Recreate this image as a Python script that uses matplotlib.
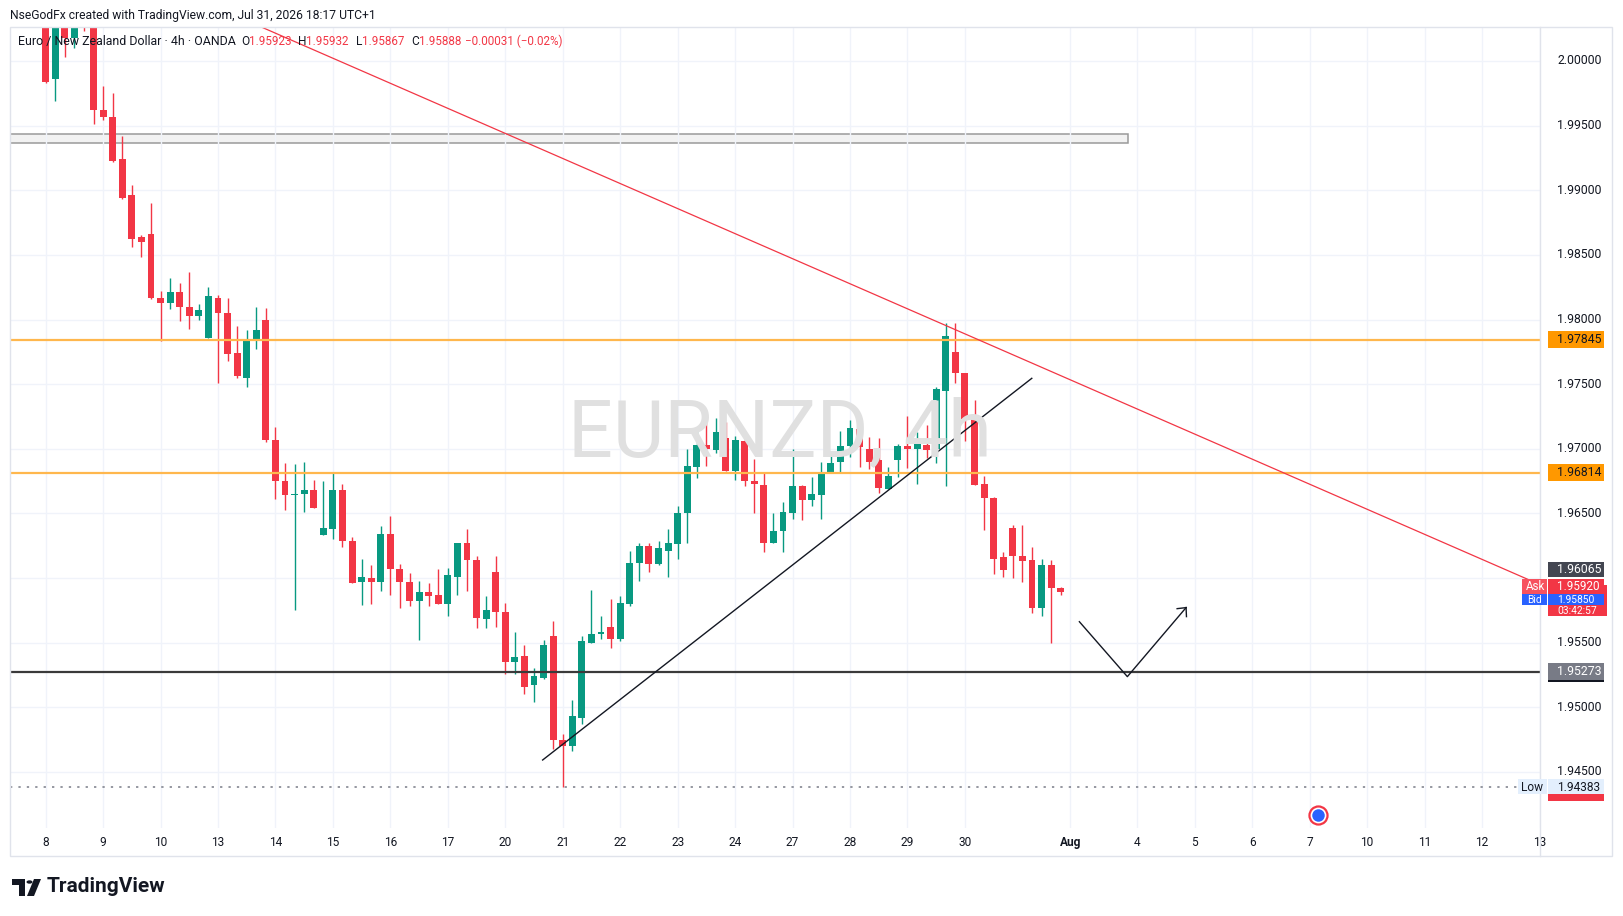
import numpy as np
import matplotlib
matplotlib.use('Agg')
import matplotlib.pyplot as plt
from matplotlib.patches import Rectangle, Polygon, Circle

plt.rcParams['font.family'] = ['Roboto', 'DejaVu Sans']

# 4h candles, EUR/NZD, Jul 8 - Jul 31
opens = [2.0048, 1.9986, 2.0036, 2.0018, 2.0050, 2.0040, 1.9962, 1.9957, 1.9924, 1.9896,
         1.9864, 1.9866, 1.9817, 1.9813, 1.9821, 1.9810, 1.9803, 1.9786, 1.9817, 1.9805,
         1.9774, 1.9755, 1.9784, 1.9800, 1.9707, 1.9675, 1.9664, 1.9665, 1.9668, 1.9633,
         1.9638, 1.9668, 1.9629, 1.9597, 1.9600, 1.9597, 1.9634, 1.9607, 1.9597, 1.9582,
         1.9589, 1.9587, 1.9580, 1.9601, 1.9627, 1.9614, 1.9568, 1.9605, 1.9574, 1.9535,
         1.9540, 1.9517, 1.9523, 1.9555, 1.9475, 1.9470, 1.9492, 1.9550, 1.9557, 1.9562,
         1.9553, 1.9580, 1.9612, 1.9625, 1.9611, 1.9621, 1.9626, 1.9650, 1.9686, 1.9703,
         1.9699, 1.9708, 1.9683, 1.9706, 1.9675, 1.9672, 1.9627, 1.9636, 1.9650, 1.9671,
         1.9660, 1.9664, 1.9681, 1.9690, 1.9702, 1.9715, 1.9700, 1.9691, 1.9669, 1.9691,
         1.9702, 1.9700, 1.9703, 1.9700, 1.9745, 1.9775, 1.9759, 1.9724, 1.9673, 1.9662,
         1.9616, 1.9639, 1.9617, 1.9614, 1.9577, 1.9610, 1.95923]
highs = [2.0060, 2.0055, 2.0050, 2.0045, 2.0058, 2.0052, 1.9981, 1.9975, 1.9942, 1.9904,
         1.9865, 1.9890, 1.9822, 1.9832, 1.9828, 1.9837, 1.9812, 1.9825, 1.9819, 1.9817,
         1.9795, 1.9792, 1.9810, 1.9809, 1.9717, 1.9689, 1.9688, 1.9690, 1.9676, 1.9675,
         1.9682, 1.9673, 1.9632, 1.9615, 1.9610, 1.9640, 1.9648, 1.9611, 1.9604, 1.9598,
         1.9596, 1.9607, 1.9608, 1.9627, 1.9638, 1.9617, 1.9586, 1.9617, 1.9581, 1.9558,
         1.9548, 1.9530, 1.9552, 1.9567, 1.9479, 1.9506, 1.9555, 1.9591, 1.9571, 1.9584,
         1.9586, 1.9621, 1.9627, 1.9627, 1.9629, 1.9638, 1.9656, 1.9700, 1.9714, 1.9728,
         1.9724, 1.9721, 1.9710, 1.9708, 1.9692, 1.9681, 1.9650, 1.9659, 1.9700, 1.9672,
         1.9678, 1.9690, 1.9695, 1.9714, 1.9722, 1.9720, 1.9709, 1.9708, 1.9686, 1.9704,
         1.9725, 1.9713, 1.9718, 1.9748, 1.9797, 1.9797, 1.9759, 1.9738, 1.9679, 1.9663,
         1.9620, 1.9641, 1.9641, 1.9624, 1.9615, 1.9614, 1.95932]
lows = [1.9983, 1.9969, 2.0003, 2.0010, 2.0023, 1.9951, 1.9954, 1.9922, 1.9893, 1.9856,
        1.9848, 1.9816, 1.9783, 1.9808, 1.9799, 1.9793, 1.9800, 1.9786, 1.9751, 1.9768,
        1.9755, 1.9748, 1.9777, 1.9705, 1.9661, 1.9653, 1.9575, 1.9651, 1.9654, 1.9633,
        1.9630, 1.9624, 1.9596, 1.9579, 1.9580, 1.9590, 1.9587, 1.9577, 1.9578, 1.9552,
        1.9578, 1.9580, 1.9571, 1.9587, 1.9590, 1.9561, 1.9561, 1.9562, 1.9526, 1.9526,
        1.9510, 1.9504, 1.9522, 1.9468, 1.94383, 1.9466, 1.9487, 1.9550, 1.9553, 1.9546,
        1.9551, 1.9578, 1.9598, 1.9605, 1.9610, 1.9601, 1.9615, 1.9627, 1.9677, 1.9687,
        1.9697, 1.9683, 1.9676, 1.9671, 1.9650, 1.9620, 1.9627, 1.9620, 1.9646, 1.9645,
        1.9656, 1.9646, 1.9681, 1.9681, 1.9694, 1.9686, 1.9684, 1.9666, 1.9669, 1.9678,
        1.9685, 1.9673, 1.9693, 1.9689, 1.9671, 1.9751, 1.9706, 1.9672, 1.9637, 1.9603,
        1.9601, 1.9600, 1.9597, 1.9573, 1.9571, 1.9550, 1.95867]
closes = [1.9984, 2.0040, 2.0018, 2.0032, 2.0032, 1.9962, 1.9957, 1.9923, 1.9894, 1.9862,
          1.9860, 1.9817, 1.9813, 1.9821, 1.9810, 1.9803, 1.9807, 1.9818, 1.9805, 1.9773,
          1.9756, 1.9785, 1.9792, 1.9707, 1.9675, 1.9664, 1.9665, 1.9668, 1.9654, 1.9639,
          1.9668, 1.9629, 1.9596, 1.9601, 1.9597, 1.9634, 1.9607, 1.9597, 1.9582, 1.9589,
          1.9586, 1.9580, 1.9602, 1.9627, 1.9614, 1.9569, 1.9575, 1.9574, 1.9535, 1.9539,
          1.9516, 1.9524, 1.9548, 1.9475, 1.9470, 1.9493, 1.9551, 1.9557, 1.9558, 1.9553,
          1.9581, 1.9612, 1.9625, 1.9611, 1.9623, 1.9627, 1.9650, 1.9687, 1.9703, 1.9700,
          1.9713, 1.9683, 1.9707, 1.9675, 1.9673, 1.9627, 1.9636, 1.9651, 1.9671, 1.9660,
          1.9665, 1.9682, 1.9689, 1.9702, 1.9716, 1.9701, 1.9690, 1.9670, 1.9679, 1.9702,
          1.9700, 1.9704, 1.9699, 1.9746, 1.9787, 1.9759, 1.9723, 1.9672, 1.9662, 1.9615,
          1.9606, 1.9617, 1.9613, 1.9577, 1.9610, 1.9592, 1.95888]

# time axis labels (bar index where each day starts)
day_pos = [0, 6, 12, 18, 24, 30, 36, 42, 48, 54, 60, 66, 72, 78, 84, 90, 96,
           107, 114, 120, 126, 132, 138, 144, 150, 156]
day_labels = ['8', '9', '10', '13', '14', '15', '16', '17', '20', '21', '22', '23', '24',
              '27', '28', '29', '30', 'Aug', '4', '5', '6', '7', '10', '11', '12', '13']

price_ticks = [2.0, 1.995, 1.99, 1.985, 1.98, 1.975, 1.97, 1.965, 1.96, 1.955, 1.95, 1.945]
hidden_ticks = [1.96]   # covered by the 1.96065 tag in the original

# drawings
level_hi = 1.97845
level_mid = 1.96814
level_support = 1.95273
low_price = 1.94383
zone = (1.99363, 1.99433, 113.0)           # bottom, top, right end (bar index)
red_trend = ((90.27, 1.98074), -0.0003231)  # point, slope per bar
black_trend = ([51.9, 102.98], [1.94592, 1.97545])
path_x = [107.95, 112.96, 119.09]
path_y = [1.95662, 1.95237, 1.95771]

GREEN = '#089981'
RED = '#F23645'
ORANGE = '#FFB74D'
TXT = '#131722'

W, H = 1623, 916
fig = plt.figure(figsize=(W / 100, H / 100), dpi=100)
fig.patch.set_facecolor('white')

def fx(x):
    return x / W

def fy(y):
    return 1 - y / H

# pane: x 10..1540, y 27..828 pixels
ax = fig.add_axes([fx(10), fy(828), 1530 / W, 801 / H])
ymax, ymin = 2.00263, 1.94066
ax.set_xlim(-3.72, 156.05)
ax.set_ylim(ymin, ymax)
ppu = 801 / (ymax - ymin)
bar_px = 1530 / (156.05 + 3.72)

def py(p):
    return 27 + (ymax - p) * ppu

for s in ax.spines.values():
    s.set_visible(False)

ax.set_yticks(price_ticks)
ax.set_xticks(day_pos, day_labels)
ax.grid(True, color='#f0f3fa', lw=1.0, zorder=0)
ax.tick_params(axis='y', length=0, labelleft=False)
ax.tick_params(axis='x', length=0, pad=6, labelsize=8.6, labelcolor=TXT)
for t in ax.get_xticklabels():
    if t.get_text() == 'Aug':
        t.set_fontweight('bold')

# watermark
fig.text(fx(568), fy(456), 'EURNZD, 4h', fontsize=57, color='#e0e0e0',
         ha='left', va='baseline', zorder=0)

o = np.array(opens)
h = np.array(highs)
l = np.array(lows)
c = np.array(closes)
x = np.arange(len(o))
cols = np.where(c >= o, GREEN, RED)

# supply zone box
ax.add_patch(Rectangle((-10, zone[0]), zone[2] + 10, zone[1] - zone[0],
                       facecolor='#f2f2f2', edgecolor='#9a9a9a', lw=1.1, zorder=1))

ax.vlines(x, l, h, colors=cols, lw=1.0, zorder=3)
body = np.maximum(np.abs(c - o), 1.2 / ppu)
ax.bar(x, body, width=0.72, bottom=np.minimum(o, c), color=cols, lw=0, zorder=3)

ax.axhline(level_hi, color=ORANGE, lw=1.6, zorder=4)
ax.axhline(level_mid, color=ORANGE, lw=1.6, zorder=4)
ax.axhline(level_support, color='#3a3a3a', lw=1.6, zorder=4)
ax.axhline(low_price, color='#787b86', lw=1.1, ls=(0, (1.5, 4)), zorder=4)

ax.axline(red_trend[0], slope=red_trend[1], color=RED, lw=0.9, zorder=4)
ax.plot(black_trend[0], black_trend[1], color=TXT, lw=1.0, zorder=4)
ax.plot(path_x, path_y, color=TXT, lw=1.0, zorder=4)

# open arrow head at the end of the path
dx = (path_x[2] - path_x[1]) * bar_px
dy = (path_y[2] - path_y[1]) * ppu
ang = np.arctan2(dy, dx)
for a in (ang + np.pi - 0.75, ang + np.pi + 0.75):
    ax.plot([path_x[2], path_x[2] + 9 * np.cos(a) / bar_px],
            [path_y[2], path_y[2] + 9 * np.sin(a) / ppu], color=TXT, lw=1.0, zorder=4)

# economic event icon
ax.plot([132.9], [1.94167], 'o', ms=13, mfc='white', mec=RED, mew=1.6, zorder=5, clip_on=False)
ax.plot([132.9], [1.94167], 'o', ms=9, mfc='#2962FF', mec='none', zorder=6, clip_on=False)

# chart panel frame and price scale separator
fig.patches.append(Rectangle((fx(10), fy(856)), 1602 / W, 829 / H, transform=fig.transFigure,
                             facecolor='none', edgecolor='#e0e3eb', lw=1.0, zorder=0))
fig.lines.append(plt.Line2D([fx(1540), fx(1540)], [fy(27), fy(856)], transform=fig.transFigure,
                            color='#e0e3eb', lw=1.0))

# price scale labels
for p in price_ticks:
    if p in hidden_ticks:
        continue
    fig.text(fx(1557), fy(py(p)), '%.5f' % p, fontsize=8.8, color=TXT, ha='left', va='center')

def box(x0, x1, y0, y1, color, z=5):
    fig.patches.append(Rectangle((fx(x0), fy(y1)), (x1 - x0) / W, (y1 - y0) / H,
                                 transform=fig.transFigure, facecolor=color,
                                 edgecolor='none', zorder=z))

def tag(yc, text, bg, fg, x0=1548, x1=1604, hh=8.5, z=5):
    box(x0, x1, yc - hh, yc + hh, bg, z)
    fig.text(fx(1557), fy(yc), text, fontsize=8.8, color=fg, ha='left', va='center', zorder=z + 0.1)

tag(py(level_hi), '1.97845', '#FF9800', TXT)
tag(py(level_mid), '1.96814', '#FF9800', TXT)
tag(py(1.96065), '1.96065', '#434651', 'white', hh=7.5)

# current price / bid / ask cluster
box(1548, 1607, 585, 616, RED, 5)
fig.text(fx(1557), fy(611), '03:42:57', fontsize=7.4, color='white', ha='left', va='center', zorder=5.1)
box(1522, 1547, 594, 605, '#2962FF', 6)
box(1548, 1604, 594, 605, '#2962FF', 6)
fig.text(fx(1527), fy(600), 'Bid', fontsize=7.4, color='white', ha='left', va='center', zorder=6.1)
fig.text(fx(1557), fy(600), '1.95850', fontsize=7.4, color='white', ha='left', va='center', zorder=6.1)
box(1522, 1547, 579, 594, '#F7525F', 7)
box(1548, 1604, 579, 594, RED, 7)
fig.text(fx(1526), fy(586.5), 'Ask', fontsize=8.4, color='white', ha='left', va='center', zorder=7.1)
fig.text(fx(1557), fy(586.5), '1.95920', fontsize=8.4, color='white', ha='left', va='center', zorder=7.1)

ys = py(level_support)
tag(ys, '1.95273', '#787B86', 'white')
box(1548, 1604, ys + 8.5, ys + 10.5, '#131722', 5)

yl = py(low_price)
box(1548, 1604, yl - 3, yl + 14, RED, 4)
box(1518, 1547, yl - 8, yl + 7, '#E3EFFD', 6)
box(1548, 1604, yl - 8, yl + 7, '#E3EFFD', 6)
fig.text(fx(1521), fy(yl), 'Low', fontsize=8.6, color=TXT, ha='left', va='center', zorder=6.1)
fig.text(fx(1557), fy(yl), '1.94383', fontsize=8.6, color=TXT, ha='left', va='center', zorder=6.1)

# header and legend
fig.text(fx(10), fy(15), 'NseGodFx created with TradingView.com, Jul 31, 2026 18:17 UTC+1',
         fontsize=8.7, color=TXT, ha='left', va='center')
legend_parts = [(18.4, 'Euro / New Zealand Dollar \u00b7 4h \u00b7 OANDA', TXT, 8.9),
                (241, 'O', TXT, 8.6), (249, '1.95923', RED, 8.4),
                (297.7, 'H', TXT, 8.6), (306, '1.95932', RED, 8.4),
                (356, 'L', TXT, 8.6), (362, '1.95867', RED, 8.4),
                (411.4, 'C', TXT, 8.6), (419, '1.95888', RED, 8.4),
                (465, '\u22120.00031 (\u22120.02%)', RED, 8.4)]
for lx, txt, col, fs in legend_parts:
    fig.text(fx(lx), fy(41.7), txt, fontsize=fs, color=col, ha='left', va='center', zorder=10)

# footer logo
fig.patches.append(Polygon([(fx(12), fy(879)), (fx(25), fy(879)), (fx(25), fy(896)),
                            (fx(19), fy(896)), (fx(19), fy(885)), (fx(12), fy(885))],
                           closed=True, transform=fig.transFigure, facecolor=TXT, edgecolor='none'))
fig.patches.append(Circle((fx(29.5), fy(882)), 3 / W, transform=fig.transFigure,
                          facecolor=TXT, edgecolor='none'))
fig.patches.append(Polygon([(fx(34), fy(879)), (fx(41), fy(879)), (fx(34), fy(896)),
                            (fx(27), fy(896))],
                           closed=True, transform=fig.transFigure, facecolor=TXT, edgecolor='none'))
fig.text(fx(47), fy(887), 'TradingView', fontsize=15, fontweight='bold', color=TXT,
         ha='left', va='center')

fig.savefig('out.png', dpi=100)
